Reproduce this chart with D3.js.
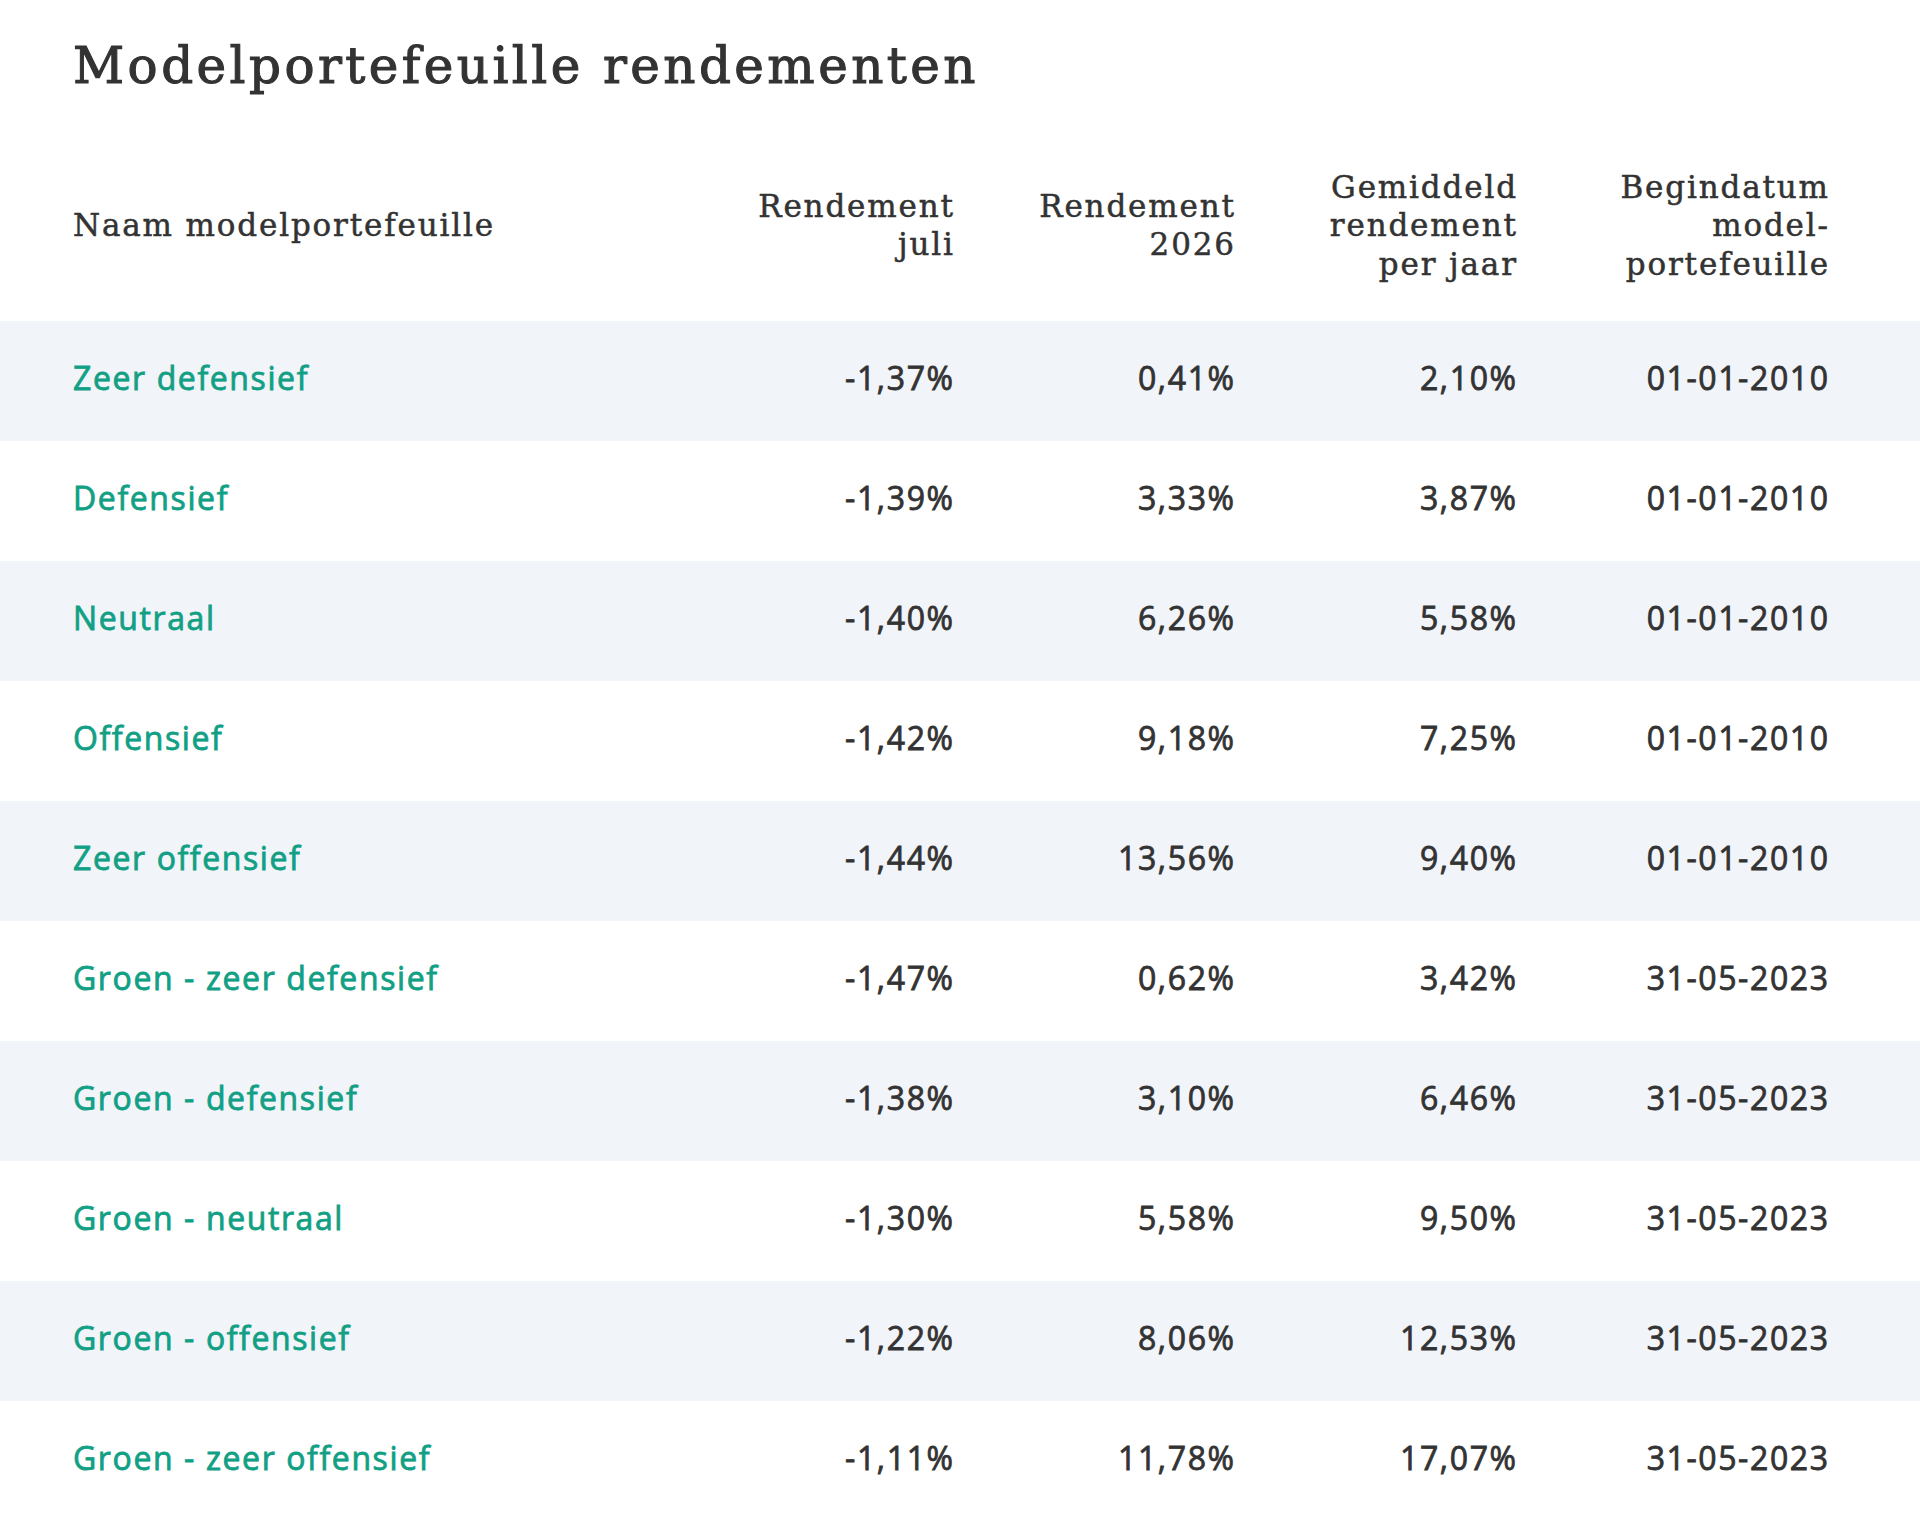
<!DOCTYPE html>
<html>
<head>
<meta charset="utf-8">
<script src="https://cdn.jsdelivr.net/npm/d3@7"></script>
<style>
    html, body { margin: 0; padding: 0; background: #fff; }
    svg { display: block; }
</style>
</head>
<body>
<div id="chart"></div>
<script>
// Data
var portfolios = ['Zeer defensief', 'Defensief', 'Neutraal', 'Offensief', 'Zeer offensief',
    'Groen - zeer defensief', 'Groen - defensief', 'Groen - neutraal', 'Groen - offensief', 'Groen - zeer offensief'];
var returnJuly = [-1.37, -1.39, -1.40, -1.42, -1.44, -1.47, -1.38, -1.30, -1.22, -1.11];
var return2026 = [0.41, 3.33, 6.26, 9.18, 13.56, 0.62, 3.10, 5.58, 8.06, 11.78];
var returnAvgYear = [2.10, 3.87, 5.58, 7.25, 9.40, 3.42, 6.46, 9.50, 12.53, 17.07];
var startDates = ['01-01-2010', '01-01-2010', '01-01-2010', '01-01-2010', '01-01-2010',
    '31-05-2023', '31-05-2023', '31-05-2023', '31-05-2023', '31-05-2023'];
var headers = [
    ['Naam modelportefeuille'],
    ['Rendement', 'juli'],
    ['Rendement', '2026'],
    ['Gemiddeld', 'rendement', 'per jaar'],
    ['Begindatum', 'model-', 'portefeuille']
];

(function() {
    var width = 1920,
        height = 1521,
        headerTop = 321,
        rowHeight = 120;

    var nl = d3.formatLocale({ decimal: ',', thousands: '.', grouping: [3], currency: ['€', ''], minus: '-' });
    var pct = function(v) { return nl.format('.2f')(v) + '%'; };

    var rows = portfolios.map(function(name, i) {
        return [name, pct(returnJuly[i]), pct(return2026[i]), pct(returnAvgYear[i]), startDates[i]];
    });

    // column anchors: first column left aligned, the rest right aligned
    var colX = d3.scaleOrdinal()
        .domain([0, 1, 2, 3, 4])
        .range([73, 953, 1234, 1516, 1828]);

    var y = d3.scaleBand()
        .domain(d3.range(rows.length))
        .range([headerTop, headerTop + rowHeight * rows.length]);

    var svg = d3.select('#chart').append('svg')
        .attr('width', width)
        .attr('height', height);

    var serif = '"DejaVu Serif", "Liberation Serif", serif',
        sans = '"Open Sans", "Noto Sans", sans-serif';

    var applyStyle = function(sel, style) {
        Object.keys(style).forEach(function(k) { sel.style(k, style[k]); });
        return sel;
    };

    // letter-spacing needed so that `str` in the given style gets `target` px wide
    var fitSpacing = function(str, style, target) {
        var probe = applyStyle(svg.append('text').text(str), style);
        var w = probe.node().getComputedTextLength();
        probe.remove();
        return (target - w) / str.length;
    };

    // Title
    var titleStyle = { 'font-family': serif, 'font-size': '50px', 'fill': '#333333',
        'stroke': '#333333', 'stroke-width': '1.1px' };
    var titleText = 'Modelportefeuille rendementen';
    var title = applyStyle(svg.append('text')
        .attr('x', 73)
        .attr('y', 83)
        .text(titleText), titleStyle);
    title.style('letter-spacing', fitSpacing(titleText, titleStyle, 906) + 'px');

    // Header
    var lineHeight = 38.5,
        headerMid = 236;
    var headStyle = { 'font-family': serif, 'font-size': '31px', 'fill': '#333333',
        'stroke': '#333333', 'stroke-width': '0.5px' };
    var headSpacing = fitSpacing(headers[0][0], headStyle, 422);

    var header = svg.append('g').attr('class', 'header');
    headers.forEach(function(lines, c) {
        var first = headerMid - (lines.length - 1) * lineHeight / 2;
        var t = applyStyle(header.append('text')
            .attr('text-anchor', c === 0 ? 'start' : 'end'), headStyle)
            .style('letter-spacing', headSpacing + 'px');

        t.selectAll('tspan')
            .data(lines)
            .enter()
            .append('tspan')
            // trailing letter-spacing would push right-aligned text left
            .attr('x', colX(c) + (c === 0 ? 0 : headSpacing))
            .attr('y', function(d, i) { return first + i * lineHeight; })
            .text(function(d) { return d; });
    });

    // Row bands
    svg.append('g').selectAll('rect')
        .data(rows)
        .enter()
        .append('rect')
        .attr('x', 0)
        .attr('y', function(d, i) { return y(i); })
        .attr('width', width)
        .attr('height', y.bandwidth())
        .style('fill', function(d, i) { return i % 2 === 0 ? '#f1f4f9' : '#ffffff'; });

    // Cells
    var cellStyle = { 'font-family': sans, 'font-size': '32px', 'font-weight': 400, 'stroke-width': '0.8px' };
    var cellSpacing = fitSpacing('Zeer defensief', cellStyle, 236);
    var cellColor = function(d, c) { return c === 0 ? '#12a085' : '#333333'; };

    var rowG = svg.append('g').selectAll('g')
        .data(rows)
        .enter()
        .append('g')
        .attr('transform', function(d, i) { return 'translate(0,' + (y(i) + 69) + ')'; });

    var cells = rowG.selectAll('text')
        .data(function(d) { return d; })
        .enter()
        .append('text')
        .attr('x', function(d, c) { return colX(c) + (c === 0 ? 0 : cellSpacing); })
        .attr('text-anchor', function(d, c) { return c === 0 ? 'start' : 'end'; })
        .style('letter-spacing', cellSpacing + 'px')
        .style('fill', cellColor)
        .style('stroke', cellColor)
        .text(function(d) { return d; });
    applyStyle(cells, cellStyle);
})();
</script>
</body>
</html>
